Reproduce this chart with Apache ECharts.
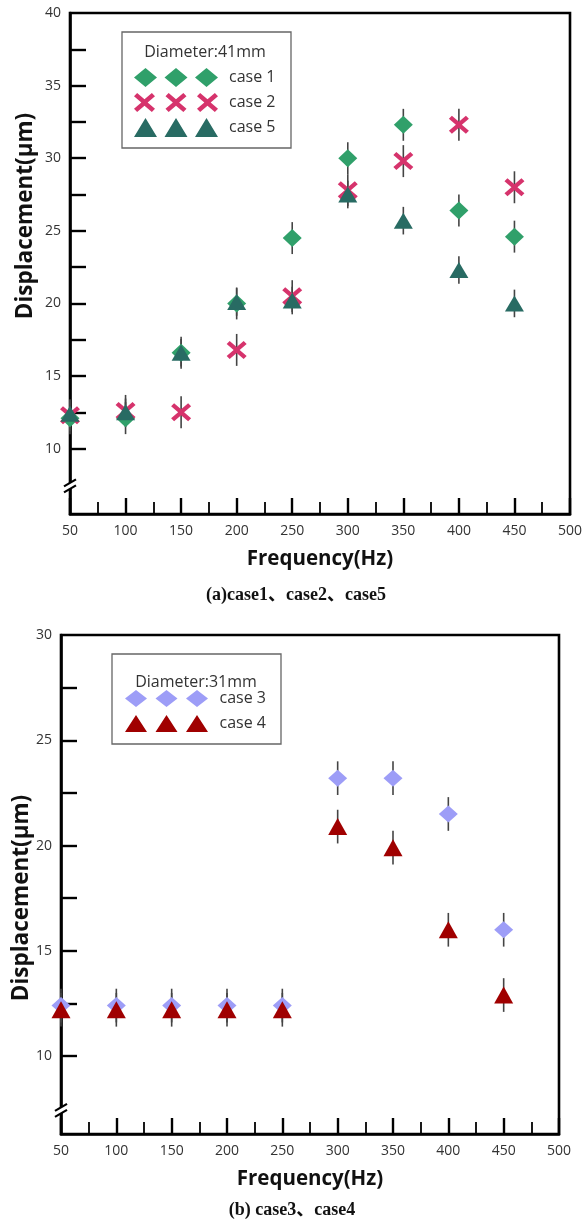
<!DOCTYPE html>
<html>
<head>
<meta charset="utf-8">
<script src="https://cdn.jsdelivr.net/npm/echarts@6/dist/echarts.min.js"></script>
<style>
  html, body { margin: 0; padding: 0; background: #fff; }
  #chart { width: 582px; height: 1232px; }
</style>
</head>
<body>
<div id="chart"></div>
<script>
// frequencies (Hz)
const freqs = [50, 100, 150, 200, 250, 300, 350, 400, 450];

// (a) diameter 41mm
const case1 = [12.1, 12.1, 16.6, 20.0, 24.5, 30.0, 32.3, 26.4, 24.6];
const case2 = [12.3, 12.6, 12.5, 16.8, 20.5, 27.8, 29.8, 32.3, 28.0];
const case5 = [12.4, 12.5, 16.6, 20.1, 20.2, 27.5, 25.7, 22.3, 20.0];
const err1 = [1.1, 1.1, 1.1, 1.1, 1.1, 1.1, 1.1, 1.1, 1.1];
const err2 = [1.1, 1.1, 1.1, 1.1, 1.1, 1.1, 1.1, 1.1, 1.1];
const err5 = [0.95, 0.95, 0.95, 0.95, 0.95, 0.95, 0.95, 0.95, 0.95];

// (b) diameter 31mm
const case3 = [12.4, 12.4, 12.4, 12.4, 12.4, 23.2, 23.2, 21.5, 16.0];
const case4 = [12.2, 12.2, 12.2, 12.2, 12.2, 20.9, 19.9, 16.0, 12.9];
const err3 = [0.8, 0.8, 0.8, 0.8, 0.8, 0.8, 0.8, 0.8, 0.8];
const err4 = [0.8, 0.8, 0.8, 0.8, 0.8, 0.8, 0.8, 0.8, 0.8];

const yLabelsA = [10, 15, 20, 25, 30, 35, 40];
const yTicksA = [10, 12.5, 15, 17.5, 20, 22.5, 25, 27.5, 30, 32.5, 35, 37.5];
const yLabelsB = [10, 15, 20, 25, 30];
const yTicksB = [10, 12.5, 15, 17.5, 20, 22.5, 25, 27.5];

const FONT = '"Open Sans", "Noto Sans", sans-serif';
const col = {
  case1: '#30a06a',
  case2: '#d6336c',
  case5: '#286b63',
  case3: '#9d9df7',
  case4: '#a00000'
};

// X mark polygon in a 20x18 box
function crossPath(ox, w, h) {
  const sx = w / 20, sy = h / 18;
  const pts = [[0,3],[3,0],[10,6],[17,0],[20,3],[13,9],[20,15],[17,18],[10,12],[3,18],[0,15],[7,9]];
  return 'M' + pts.map(p => (ox + p[0] * sx).toFixed(2) + ',' + (p[1] * sy).toFixed(2)).join(' L') + ' Z';
}
function diamondPath(ox, w, h) {
  return `M${ox},${h / 2} L${ox + w / 2},0 L${ox + w},${h / 2} L${ox + w / 2},${h} Z`;
}
function trianglePath(ox, w, h) {
  return `M${ox},${h} L${ox + w / 2},0 L${ox + w},${h} Z`;
}
function triple(fn, w, h, step) {
  return 'path://' + [0, step, step * 2].map(o => fn(o, w, h)).join(' ');
}

const X_SYMBOL = 'path://' + crossPath(0, 20, 18);

function errorSeries(name, idx, vals, errs) {
  return {
    type: 'custom',
    name: name,
    xAxisIndex: idx,
    yAxisIndex: idx,
    z: 1,
    silent: true,
    data: freqs.map((f, i) => [f, vals[i] - errs[i], vals[i] + errs[i]]),
    encode: { x: 0, y: [1, 2] },
    renderItem: (params, api) => {
      const lo = api.coord([api.value(0), api.value(1)]);
      const hi = api.coord([api.value(0), api.value(2)]);
      return {
        type: 'line',
        shape: { x1: lo[0], y1: lo[1], x2: hi[0], y2: hi[1] },
        style: { stroke: '#444', lineWidth: 1.6 }
      };
    }
  };
}

function scatter(name, idx, vals, symbol, size, color, z) {
  return {
    type: 'scatter',
    name: name,
    xAxisIndex: idx,
    yAxisIndex: idx,
    z: z,
    symbol: symbol,
    symbolSize: size,
    itemStyle: { color: color, opacity: 1 },
    data: freqs.map((f, i) => [f, vals[i]])
  };
}

function xAxisOf(idx) {
  return {
    gridIndex: idx,
    type: 'value',
    min: 50,
    max: 500,
    interval: 50,
    name: 'Frequency(Hz)',
    nameLocation: 'middle',
    nameGap: 35,
    nameTextStyle: { fontFamily: FONT, fontSize: 20.5, fontWeight: 'bold', color: '#111' },
    axisLine: { show: true, onZero: false, lineStyle: { color: '#000', width: 2.6 } },
    axisTick: { show: true, inside: true, length: 16, lineStyle: { color: '#000', width: 2.4 } },
    minorTick: { show: true, splitNumber: 2, length: 12, lineStyle: { color: '#000', width: 1.8 } },
    axisLabel: { fontFamily: FONT, fontSize: 14, color: '#333', margin: 10 },
    splitLine: { show: false },
    minorSplitLine: { show: false }
  };
}

function yAxisOf(idx, min, max, labels, ticks) {
  return {
    gridIndex: idx,
    type: 'value',
    min: min,
    max: max,
    axisLine: { show: true, onZero: false, lineStyle: { color: '#000', width: 2.6 } },
    axisTick: { show: true, inside: true, length: 16, customValues: ticks, lineStyle: { color: '#000', width: 2.4 } },
    axisLabel: { fontFamily: FONT, fontSize: 14, color: '#333', margin: 9, customValues: labels },
    splitLine: { show: false }
  };
}

function legendOf(items, left, top, h) {
  return {
    data: items,
    left: left,
    top: top,
    orient: 'vertical',
    itemWidth: 84,
    itemHeight: h,
    itemGap: 25 - h,
    padding: 0,
    selectedMode: false,
    textStyle: { fontFamily: FONT, fontSize: 16, color: '#333', padding: [0, 0, 0, 6] }
  };
}

const chart = echarts.init(document.getElementById('chart'));

const option = {
  backgroundColor: '#fff',
  animation: false,
  grid: [
    { left: 70, top: 13, width: 500, height: 501, show: true, borderColor: '#000', borderWidth: 2.6, containLabel: false, outerBoundsMode: 'none' },
    { left: 61, top: 635, width: 498, height: 499, show: true, borderColor: '#000', borderWidth: 2.6, containLabel: false, outerBoundsMode: 'none' }
  ],
  xAxis: [xAxisOf(0), xAxisOf(1)],
  yAxis: [
    yAxisOf(0, 5.5, 40, yLabelsA, yTicksA),
    yAxisOf(1, 6.3, 30, yLabelsB, yTicksB)
  ],
  legend: [
    legendOf([
      { name: 'case 1', icon: triple(diamondPath, 23, 19, 30.5) },
      { name: 'case 2', icon: triple(crossPath, 21, 19, 31.5) },
      { name: 'case 5', icon: triple(trianglePath, 23, 19, 30.5) }
    ], 134, 68, 19),
    legendOf([
      { name: 'case 3', icon: triple(diamondPath, 22, 17, 30.5) },
      { name: 'case 4', icon: triple(trianglePath, 22, 17, 30.5) }
    ], 125, 690, 17)
  ],
  series: [
    errorSeries('case 1 err', 0, case1, err1),
    errorSeries('case 2 err', 0, case2, err2),
    errorSeries('case 5 err', 0, case5, err5),
    scatter('case 1', 0, case1, 'diamond', [19, 18], col.case1, 3),
    scatter('case 2', 0, case2, X_SYMBOL, [20, 18], col.case2, 4),
    scatter('case 5', 0, case5, 'triangle', [19, 16], col.case5, 5),
    errorSeries('case 3 err', 1, case3, err3),
    errorSeries('case 4 err', 1, case4, err4),
    scatter('case 3', 1, case3, 'diamond', [19, 17], col.case3, 3),
    scatter('case 4', 1, case4, 'triangle', [19, 17], col.case4, 4)
  ]
};

chart.setOption(option);

// axis break mark on the y axis
function breakMark(p) {
  const x = p[0], y = p[1];
  return [
    { type: 'polygon', z: 100, shape: { points: [[x - 6, y + 6], [x + 6, y - 1], [x + 6, y - 7], [x - 6, y]] }, style: { fill: '#fff' } },
    { type: 'line', z: 101, shape: { x1: x - 6, y1: y + 6, x2: x + 6, y2: y - 1 }, style: { stroke: '#000', lineWidth: 2.2 } },
    { type: 'line', z: 101, shape: { x1: x - 6, y1: y, x2: x + 6, y2: y - 7 }, style: { stroke: '#000', lineWidth: 2.2 } }
  ];
}

const pa = chart.convertToPixel({ gridIndex: 0 }, [50, 7.4]);
const pb = chart.convertToPixel({ gridIndex: 1 }, [50, 7.4]);

const textBase = { fontFamily: FONT, fill: '#111', textAlign: 'center', textVerticalAlign: 'middle' };

chart.setOption({
  graphic: [
    // legend boxes and titles
    { type: 'rect', z: 50, shape: { x: 122, y: 32, width: 169, height: 116 }, style: { fill: 'none', stroke: '#666', lineWidth: 1.3 } },
    { type: 'text', z: 51, x: 205, y: 52, style: Object.assign({}, textBase, { text: 'Diameter:41mm', fontSize: 16, fill: '#333' }) },
    { type: 'rect', z: 50, shape: { x: 112, y: 654, width: 169, height: 90 }, style: { fill: 'none', stroke: '#666', lineWidth: 1.3 } },
    { type: 'text', z: 51, x: 196, y: 682, style: Object.assign({}, textBase, { text: 'Diameter:31mm', fontSize: 16, fill: '#333' }) },
    // y axis titles
    { type: 'text', z: 51, x: 26, y: 216, rotation: Math.PI / 2, style: Object.assign({}, textBase, { text: 'Displacement(μm)', fontSize: 22.5, fontWeight: 'bold' }) },
    { type: 'text', z: 51, x: 22, y: 898, rotation: Math.PI / 2, style: Object.assign({}, textBase, { text: 'Displacement(μm)', fontSize: 22.5, fontWeight: 'bold' }) },
    // captions
    { type: 'text', z: 51, x: 296, y: 595, style: Object.assign({}, textBase, { text: '(a)case1、case2、case5', fontFamily: '"Liberation Serif", "Noto Sans CJK SC", serif', fontSize: 18, fontWeight: 'bold' }) },
    { type: 'text', z: 51, x: 292, y: 1210, style: Object.assign({}, textBase, { text: '(b) case3、case4', fontFamily: '"Liberation Serif", "Noto Sans CJK SC", serif', fontSize: 18, fontWeight: 'bold' }) }
  ].concat(breakMark(pa), breakMark(pb))
});

window.addEventListener('resize', () => {
  chart.resize();
});
</script>
</body>
</html>
